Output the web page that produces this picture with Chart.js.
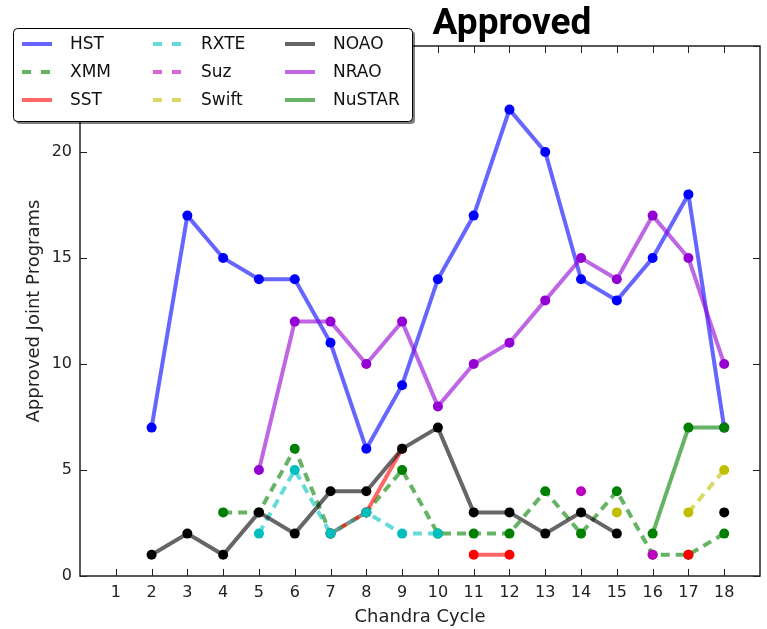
<!DOCTYPE html>
<html>
<head>
<meta charset="utf-8">
<script src="https://cdn.jsdelivr.net/npm/chart.js@4/dist/chart.umd.min.js"></script>
<style>
  html, body { margin: 0; padding: 0; background: #fff; }
  #wrap { width: 767px; height: 629px; }
</style>
</head>
<body>
<div id="wrap"><canvas id="myChart" width="767" height="629"></canvas></div>
<script>
// Chandra cycles 1..18
const cycles = [1, 2, 3, 4, 5, 6, 7, 8, 9, 10, 11, 12, 13, 14, 15, 16, 17, 18];

const hst    = [null, 7, 17, 15, 14, 14, 11, 6, 9, 14, 17, 22, 20, 14, 13, 15, 18, 7];
const xmm    = [null, null, null, 3, 3, 6, 2, 3, 5, 2, 2, 2, 4, 2, 4, 1, 1, 2];
const sst    = [null, null, null, null, null, null, 2, 3, 6, null, 1, 1, null, null, null, null, 1, null];
const rxte   = [null, null, null, null, 2, 5, 2, 3, 2, 2, null, null, null, null, null, null, null, null];
const suz    = [null, null, null, null, null, null, null, null, null, null, null, null, null, 4, null, 1, null, null];
const swift  = [null, null, null, null, null, null, null, null, null, null, null, null, null, null, 3, null, 3, 5];
const noao   = [null, 1, 2, 1, 3, 2, 4, 4, 6, 7, 3, 3, 2, 3, 2, null, null, 3];
const nrao   = [null, null, null, null, 5, 12, 12, 10, 12, 8, 10, 11, 13, 15, 14, 17, 15, 10];
const nustar = [null, null, null, null, null, null, null, null, null, null, null, null, null, null, null, 2, 7, 7];

const yTicks = [0, 5, 10, 15, 20, 25];

const FONT = "'DejaVu Sans', sans-serif";

// name, values, rgb, dashed
const series = [
	["HST", hst, [0, 0, 255], false],
	["XMM", xmm, [0, 128, 0], true],
	["SST", sst, [255, 0, 0], false],
	["RXTE", rxte, [0, 191, 191], true],
	["Suz", suz, [191, 0, 191], true],
	["Swift", swift, [191, 191, 0], true],
	["NOAO", noao, [0, 0, 0], false],
	["NRAO", nrao, [148, 0, 211], false],
	["NuSTAR", nustar, [0, 128, 0], false],
];

const datasets = series.map(([name, vals, c, dashed], i) => ({
	label: name,
	data: cycles.map((x, j) => ({ x: x, y: vals[j] })),
	borderColor: `rgba(${c[0]},${c[1]},${c[2]},0.6)`,
	borderWidth: 4,
	borderDash: dashed ? [9, 6] : [],
	pointRadius: 5,
	pointHoverRadius: 5,
	pointBorderWidth: 0,
	pointBackgroundColor: `rgb(${c[0]},${c[1]},${c[2]})`,
	fill: false,
	tension: 0,
	spanGaps: false,
	order: series.length - i,
}));

const frame = {
	id: "frame",
	afterDatasetsDraw(chart) {
		const { ctx, chartArea: a, scales } = chart;
		ctx.save();
		ctx.strokeStyle = "#222";
		ctx.lineWidth = 1;
		// inward ticks
		ctx.beginPath();
		for (const c of cycles) {
			const px = Math.round(scales.x.getPixelForValue(c)) + 0.5;
			ctx.moveTo(px, a.bottom); ctx.lineTo(px, a.bottom - 7);
			ctx.moveTo(px, a.top); ctx.lineTo(px, a.top + 7);
		}
		for (const t of yTicks) {
			const py = Math.round(scales.y.getPixelForValue(t)) + 0.5;
			ctx.moveTo(a.left, py); ctx.lineTo(a.left + 7, py);
			ctx.moveTo(a.right, py); ctx.lineTo(a.right - 7, py);
		}
		ctx.stroke();
		ctx.lineWidth = 1.5;
		ctx.strokeRect(a.left, a.top, a.right - a.left, a.bottom - a.top);
		ctx.restore();
	},
	afterDraw(chart) {
		const { ctx, chartArea: a } = chart;
		ctx.save();
		// title
		ctx.fillStyle = "#000";
		ctx.font = "bold 37px Roboto";
		ctx.textAlign = "center";
		ctx.textBaseline = "alphabetic";
		ctx.fillText("Approved", 512, 34);
		// axis titles
		ctx.fillStyle = "#222";
		ctx.font = "18px " + FONT;
		ctx.textBaseline = "middle";
		ctx.fillText("Chandra Cycle", (a.left + a.right) / 2, 617);
		ctx.translate(34, (a.top + a.bottom) / 2);
		ctx.rotate(-Math.PI / 2);
		ctx.fillText("Approved Joint Programs", 0, 0);
		ctx.restore();

		// legend box (3 columns, column-major like the original)
		ctx.save();
		const bx = 13, by = 28, bw = 399, bh = 93;
		ctx.fillStyle = "rgba(0,0,0,0.5)";
		ctx.beginPath();
		ctx.roundRect(bx + 3, by + 3, bw, bh, 4);
		ctx.fill();
		ctx.fillStyle = "#fff";
		ctx.strokeStyle = "#000";
		ctx.lineWidth = 1;
		ctx.beginPath();
		ctx.roundRect(bx + 0.5, by + 0.5, bw, bh, 4);
		ctx.fill();
		ctx.stroke();
		const colX = [22, 153, 285];
		const rowY = [44, 72, 100];
		ctx.font = "17px " + FONT;
		ctx.textAlign = "left";
		ctx.textBaseline = "middle";
		series.forEach(([name, vals, c, dashed], i) => {
			const x = colX[Math.floor(i / 3)];
			const y = rowY[i % 3];
			ctx.strokeStyle = `rgba(${c[0]},${c[1]},${c[2]},0.6)`;
			ctx.lineWidth = 4;
			ctx.setLineDash(dashed ? [9, 10] : []);
			ctx.beginPath();
			ctx.moveTo(x, y);
			ctx.lineTo(x + 30, y);
			ctx.stroke();
			ctx.setLineDash([]);
			ctx.fillStyle = "#111";
			ctx.fillText(name, x + 48, y + 1);
		});
		ctx.restore();
	},
};

new Chart(document.getElementById("myChart"), {
	type: "line",
	data: { datasets: datasets },
	options: {
		responsive: false,
		animation: false,
		layout: { padding: { top: 46, right: 4, left: 0, bottom: 0 } },
		plugins: {
			legend: { display: false },
			title: { display: false },
			tooltip: { enabled: false },
		},
		scales: {
			x: {
				type: "linear",
				min: 0,
				max: 19,
				afterFit: s => { s.height = 53; },
				grid: { display: false, drawTicks: false },
				border: { display: false },
				ticks: {
					stepSize: 1,
					autoSkip: false,
					maxRotation: 0,
					padding: 7,
					color: "#222",
					font: { family: FONT, size: 16 },
					callback: v => (v >= 1 && v <= 18 ? v : ""),
				},
			},
			y: {
				min: 0,
				max: 25,
				afterFit: s => { s.width = 80; },
				grid: { display: false, drawTicks: false },
				border: { display: false },
				ticks: {
					stepSize: 5,
					padding: 8,
					color: "#222",
					font: { family: FONT, size: 16 },
				},
			},
		},
	},
	plugins: [frame],
});
</script>
</body>
</html>
